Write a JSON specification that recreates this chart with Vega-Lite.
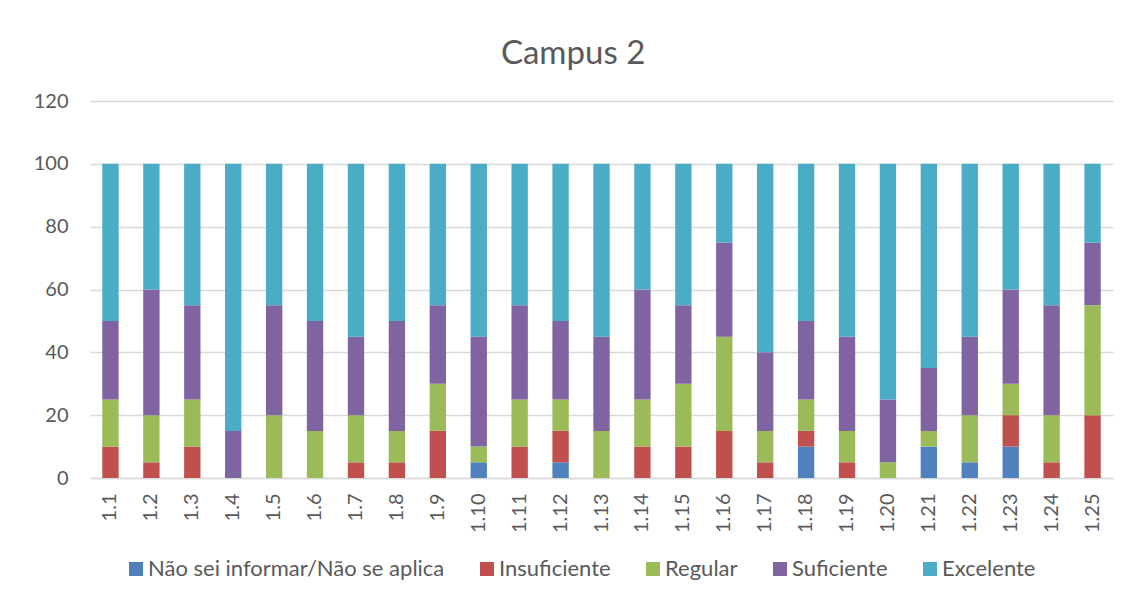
{
  "$schema": "https://vega.github.io/schema/vega-lite/v6.json",
  "width": 1023,
  "height": 377,
  "autosize": {"type": "none"},
  "padding": {"left": 90, "top": 101, "right": 18, "bottom": 122},
  "background": "white",
  "config": {"view": {"stroke": null}},
  "title": {"text": "Campus 2", "fontSize": 33, "font": "Lato", "fontWeight": "normal", "color": "#595959", "anchor": "middle", "frame": "bounds", "offset": 20},
  "data": {"values": [
    {"q":"1.1","r":"Insuficiente","k":2,"v":10},{"q":"1.1","r":"Regular","k":3,"v":15},{"q":"1.1","r":"Suficiente","k":4,"v":25},{"q":"1.1","r":"Excelente","k":5,"v":50},
    {"q":"1.2","r":"Insuficiente","k":2,"v":5},{"q":"1.2","r":"Regular","k":3,"v":15},{"q":"1.2","r":"Suficiente","k":4,"v":40},{"q":"1.2","r":"Excelente","k":5,"v":40},
    {"q":"1.3","r":"Insuficiente","k":2,"v":10},{"q":"1.3","r":"Regular","k":3,"v":15},{"q":"1.3","r":"Suficiente","k":4,"v":30},{"q":"1.3","r":"Excelente","k":5,"v":45},
    {"q":"1.4","r":"Suficiente","k":4,"v":15},{"q":"1.4","r":"Excelente","k":5,"v":85},
    {"q":"1.5","r":"Regular","k":3,"v":20},{"q":"1.5","r":"Suficiente","k":4,"v":35},{"q":"1.5","r":"Excelente","k":5,"v":45},
    {"q":"1.6","r":"Regular","k":3,"v":15},{"q":"1.6","r":"Suficiente","k":4,"v":35},{"q":"1.6","r":"Excelente","k":5,"v":50},
    {"q":"1.7","r":"Insuficiente","k":2,"v":5},{"q":"1.7","r":"Regular","k":3,"v":15},{"q":"1.7","r":"Suficiente","k":4,"v":25},{"q":"1.7","r":"Excelente","k":5,"v":55},
    {"q":"1.8","r":"Insuficiente","k":2,"v":5},{"q":"1.8","r":"Regular","k":3,"v":10},{"q":"1.8","r":"Suficiente","k":4,"v":35},{"q":"1.8","r":"Excelente","k":5,"v":50},
    {"q":"1.9","r":"Insuficiente","k":2,"v":15},{"q":"1.9","r":"Regular","k":3,"v":15},{"q":"1.9","r":"Suficiente","k":4,"v":25},{"q":"1.9","r":"Excelente","k":5,"v":45},
    {"q":"1.10","r":"Não sei informar/Não se aplica","k":1,"v":5},{"q":"1.10","r":"Regular","k":3,"v":5},{"q":"1.10","r":"Suficiente","k":4,"v":35},{"q":"1.10","r":"Excelente","k":5,"v":55},
    {"q":"1.11","r":"Insuficiente","k":2,"v":10},{"q":"1.11","r":"Regular","k":3,"v":15},{"q":"1.11","r":"Suficiente","k":4,"v":30},{"q":"1.11","r":"Excelente","k":5,"v":45},
    {"q":"1.12","r":"Não sei informar/Não se aplica","k":1,"v":5},{"q":"1.12","r":"Insuficiente","k":2,"v":10},{"q":"1.12","r":"Regular","k":3,"v":10},{"q":"1.12","r":"Suficiente","k":4,"v":25},{"q":"1.12","r":"Excelente","k":5,"v":50},
    {"q":"1.13","r":"Regular","k":3,"v":15},{"q":"1.13","r":"Suficiente","k":4,"v":30},{"q":"1.13","r":"Excelente","k":5,"v":55},
    {"q":"1.14","r":"Insuficiente","k":2,"v":10},{"q":"1.14","r":"Regular","k":3,"v":15},{"q":"1.14","r":"Suficiente","k":4,"v":35},{"q":"1.14","r":"Excelente","k":5,"v":40},
    {"q":"1.15","r":"Insuficiente","k":2,"v":10},{"q":"1.15","r":"Regular","k":3,"v":20},{"q":"1.15","r":"Suficiente","k":4,"v":25},{"q":"1.15","r":"Excelente","k":5,"v":45},
    {"q":"1.16","r":"Insuficiente","k":2,"v":15},{"q":"1.16","r":"Regular","k":3,"v":30},{"q":"1.16","r":"Suficiente","k":4,"v":30},{"q":"1.16","r":"Excelente","k":5,"v":25},
    {"q":"1.17","r":"Insuficiente","k":2,"v":5},{"q":"1.17","r":"Regular","k":3,"v":10},{"q":"1.17","r":"Suficiente","k":4,"v":25},{"q":"1.17","r":"Excelente","k":5,"v":60},
    {"q":"1.18","r":"Não sei informar/Não se aplica","k":1,"v":10},{"q":"1.18","r":"Insuficiente","k":2,"v":5},{"q":"1.18","r":"Regular","k":3,"v":10},{"q":"1.18","r":"Suficiente","k":4,"v":25},{"q":"1.18","r":"Excelente","k":5,"v":50},
    {"q":"1.19","r":"Insuficiente","k":2,"v":5},{"q":"1.19","r":"Regular","k":3,"v":10},{"q":"1.19","r":"Suficiente","k":4,"v":30},{"q":"1.19","r":"Excelente","k":5,"v":55},
    {"q":"1.20","r":"Regular","k":3,"v":5},{"q":"1.20","r":"Suficiente","k":4,"v":20},{"q":"1.20","r":"Excelente","k":5,"v":75},
    {"q":"1.21","r":"Não sei informar/Não se aplica","k":1,"v":10},{"q":"1.21","r":"Regular","k":3,"v":5},{"q":"1.21","r":"Suficiente","k":4,"v":20},{"q":"1.21","r":"Excelente","k":5,"v":65},
    {"q":"1.22","r":"Não sei informar/Não se aplica","k":1,"v":5},{"q":"1.22","r":"Regular","k":3,"v":15},{"q":"1.22","r":"Suficiente","k":4,"v":25},{"q":"1.22","r":"Excelente","k":5,"v":55},
    {"q":"1.23","r":"Não sei informar/Não se aplica","k":1,"v":10},{"q":"1.23","r":"Insuficiente","k":2,"v":10},{"q":"1.23","r":"Regular","k":3,"v":10},{"q":"1.23","r":"Suficiente","k":4,"v":30},{"q":"1.23","r":"Excelente","k":5,"v":40},
    {"q":"1.24","r":"Insuficiente","k":2,"v":5},{"q":"1.24","r":"Regular","k":3,"v":15},{"q":"1.24","r":"Suficiente","k":4,"v":35},{"q":"1.24","r":"Excelente","k":5,"v":45},
    {"q":"1.25","r":"Insuficiente","k":2,"v":20},{"q":"1.25","r":"Regular","k":3,"v":35},{"q":"1.25","r":"Suficiente","k":4,"v":20},{"q":"1.25","r":"Excelente","k":5,"v":25}
  ]},
  "mark": {"type": "bar"},
  "encoding": {
    "x": {
      "field": "q", "type": "nominal", "sort": null,
      "scale": {"paddingInner": 0.6, "paddingOuter": 0.3},
      "axis": {"title": null, "labelAngle": -90, "labelFont": "Lato", "labelFontSize": 20, "labelColor": "#595959", "labelPadding": 15, "ticks": false, "domainColor": "#D9D9D9", "domainWidth": 1.5, "labelBaseline": "middle", "labelAlign": "right"}
    },
    "y": {
      "field": "v", "type": "quantitative", "stack": "zero",
      "scale": {"domain": [0, 120]},
      "axis": {"title": null, "values": [0, 20, 40, 60, 80, 100, 120], "labelFont": "Lato", "labelFontSize": 20, "labelColor": "#595959", "labelPadding": 22, "ticks": false, "domain": false, "gridColor": "#D9D9D9", "gridWidth": 1.3}
    },
    "color": {
      "field": "r", "type": "nominal",
      "scale": {
        "domain": ["Não sei informar/Não se aplica", "Insuficiente", "Regular", "Suficiente", "Excelente"],
        "range": ["#4F81BD", "#C0504D", "#9BBB59", "#8064A2", "#4BACC6"]
      },
      "legend": {"title": null, "orient": "none", "legendX": 35, "legendY": 457, "direction": "horizontal", "symbolType": "square", "symbolSize": 196, "symbolStrokeWidth": 0, "labelFont": "Lato", "labelFontSize": 22, "labelColor": "#595959", "labelOffset": 1, "columnPadding": 31, "labelLimit": 400}
    },
    "order": {"field": "k", "type": "quantitative"}
  }
}
